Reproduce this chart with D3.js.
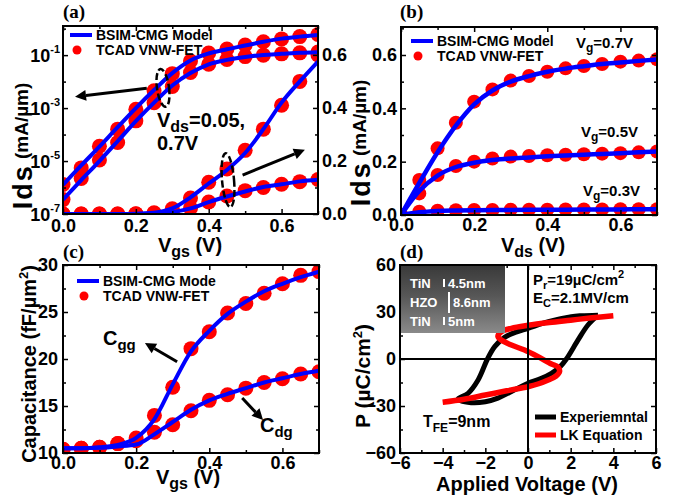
<!DOCTYPE html>
<html>
<head>
<meta charset="utf-8">
<script src="https://cdn.jsdelivr.net/npm/d3@7"></script>
<style>
  body { margin: 0; background: #fff; }
  svg text { font-family: "Liberation Sans", Arial, sans-serif; font-weight: bold; fill: #000; }
</style>
</head>
<body>
<div id="fig"></div>
<script>
const FONT = "'Liberation Sans', Arial, sans-serif";
const SERIF = "'Liberation Serif', 'Times New Roman', serif";
const BLUE = "#0000ff";
const RED = "#ff0000";

// ---- panel (a): Ids-Vgs, same curves on log (left) and linear (right) axes ----
const A_VGS = [0, 0.05, 0.1, 0.15, 0.2, 0.25, 0.3, 0.35, 0.4, 0.45, 0.5, 0.55, 0.6, 0.65, 0.7];
const A_MODEL_VD07 = [1.26e-6, 6.8e-6, 3.5e-5, 1.9e-4, 1.0e-3, 4.8e-3, 0.021, 0.063, 0.115, 0.166, 0.23, 0.32, 0.42, 0.5, 0.575];
const A_MODEL_VD005 = [3.5e-7, 1.9e-6, 1.0e-5, 5.6e-5, 3.2e-4, 1.6e-3, 7.1e-3, 0.021, 0.045, 0.066, 0.085, 0.102, 0.112, 0.123, 0.129];
const A_TCAD_VD07 = [1.3e-6, 5.5e-6, 3.6e-5, 1.6e-4, 9e-4, 4.5e-3, 0.02, 0.06, 0.12, 0.17, 0.24, 0.32, 0.41, 0.5, 0.6];
const A_TCAD_VD005 = [3.5e-7, 2.2e-6, 1.1e-5, 5e-5, 3.3e-4, 1.6e-3, 6.5e-3, 0.022, 0.045, 0.068, 0.088, 0.1, 0.112, 0.122, 0.13];
const A_LOG_TICKS = [-7, -5, -3, -1];
const A_LIN_TICKS = [0, 0.2, 0.4, 0.6];

// ---- panel (b): Ids-Vds ----
const B_VDS = [0, 0.05, 0.1, 0.15, 0.2, 0.25, 0.3, 0.35, 0.4, 0.45, 0.5, 0.55, 0.6, 0.65, 0.7];
const B_MODEL_VG07 = [0, 0.12, 0.235, 0.335, 0.415, 0.467, 0.5, 0.521, 0.537, 0.549, 0.558, 0.566, 0.572, 0.578, 0.583];
const B_TCAD_VG07 = [0, 0.131, 0.25, 0.346, 0.425, 0.471, 0.504, 0.521, 0.537, 0.55, 0.559, 0.566, 0.575, 0.579, 0.584];
const B_MODEL_VG05 = [0, 0.09, 0.148, 0.18, 0.196, 0.206, 0.212, 0.216, 0.22, 0.223, 0.226, 0.229, 0.232, 0.235, 0.238];
const B_TCAD_VG05 = [0, 0.081, 0.15, 0.184, 0.2, 0.212, 0.219, 0.221, 0.224, 0.226, 0.228, 0.23, 0.232, 0.235, 0.238];
const B_MODEL_VG03 = [0, 0.01, 0.015, 0.017, 0.018, 0.0185, 0.019, 0.0193, 0.0196, 0.02, 0.0203, 0.0206, 0.021, 0.0215, 0.022];
const B_TCAD_VG03 = [0, 0.012, 0.016, 0.018, 0.019, 0.019, 0.02, 0.02, 0.02, 0.021, 0.021, 0.021, 0.022, 0.022, 0.022];

// ---- panel (c): capacitance ----
const C_VGS = [0, 0.05, 0.1, 0.15, 0.2, 0.25, 0.3, 0.35, 0.4, 0.45, 0.5, 0.55, 0.6, 0.65, 0.7];
const C_MODEL_CGG = [10.5, 10.5, 10.6, 10.85, 11.6, 13.6, 17.3, 20.8, 23.0, 24.8, 26.1, 27.2, 28.0, 28.7, 29.3];
const C_TCAD_CGG = [10.4, 10.5, 10.6, 11.0, 11.6, 14.0, 17.0, 21.1, 22.9, 24.9, 25.9, 27.0, 28.0, 28.9, 29.3];
const C_MODEL_CDG = [10.5, 10.5, 10.55, 10.7, 10.9, 12.0, 13.3, 14.6, 15.6, 16.3, 16.9, 17.5, 17.95, 18.4, 18.75];
const C_TCAD_CDG = [10.4, 10.5, 10.6, 11.0, 11.3, 12.2, 13.0, 14.5, 15.6, 16.2, 16.9, 17.5, 17.9, 18.4, 18.65];

// ---- panel (d): P-V loops ----
const D_EXP_V = [3.28, 2.5, 2.03, 1, 0, -0.6, -1.1, -1.56, -1.9, -2.34, -2.81, -3.28, -2.66, -2, -1.41, -0.6, 0, 0.6, 1.1, 1.5, 1.8, 2.34, 2.81, 3.28];
const D_EXP_P = [28, 27.6, 27, 24, 19.6, 17, 13.8, 7.9, 0, -13.4, -21.9, -25.5, -27.9, -27.3, -25, -19.5, -15.5, -12.5, -9.1, -5, 0, 12, 21.7, 28];
const D_LK_V = [-4, -3, -2, -1, 0, 0.5, 0.95, 1.3, 1.48, 1.4, 1.1, 0.47, -0.16, -0.78, -1.25, -1.41, -1.25, -0.78, 0, 1, 2, 3, 4];
const D_LK_P = [-27.6, -25.7, -23, -20.3, -17.7, -15.8, -13.4, -11, -8, -5, -3.2, 1.5, 5.7, 8.9, 12.1, 14.5, 17.4, 19.6, 21.5, 23.3, 24.8, 26.3, 27.6];

const SVG = d3.select("#fig").append("svg")
    .attr("width", 678)
    .attr("height", 500);
const DEFS = SVG.append("defs");

// create a panel group with a clipped plotting layer
function makePanel(id, left, top, w, h) {
    DEFS.append("clipPath").attr("id", "clip-" + id)
        .append("rect").attr("width", w).attr("height", h);
    const g = SVG.append("g").attr("transform", "translate(" + left + "," + top + ")");
    const plot = g.append("g").attr("clip-path", "url(#clip-" + id + ")");
    return {g: g, plot: plot, w: w, h: h};
}

// write text made of parts [string, size, baseline shift, letter spacing]
function rich(sel, parts) {
    let cur = 0;
    parts.forEach((p) => {
        const shift = p[2] || 0;
        sel.append("tspan")
            .attr("font-size", p[1])
            .attr("dy", shift - cur)
            .attr("letter-spacing", p[3] || 0)
            .text(p[0]);
        cur = shift;
    });
    return sel;
}

function styleAxis(sel, size) {
    sel.select(".domain").remove();
    sel.selectAll("line").attr("stroke", "#000").attr("stroke-width", 1.5);
    sel.attr("font-size", size).attr("font-family", FONT).attr("font-weight", "bold");
}

// inward ticks on all four sides, labels bottom/left (and right when asked)
function drawAxes(p, o) {
    const h = p.h, w = p.w;
    const sides = [
        [(s) => d3.axisBottom(s), o.x, "translate(0," + h + ")", o.xTicks, o.xMinor, o.xFmt, o.xPad],
        [(s) => d3.axisTop(s), o.x, "translate(0,0)", o.xTicks, o.xMinor, null, 0],
        [(s) => d3.axisLeft(s), o.y, "translate(0,0)", o.yTicks, o.yMinor, o.yFmt, o.yPad],
        [(s) => d3.axisRight(s), o.yR || o.y, "translate(" + w + ",0)", o.yRTicks || o.yTicks,
            o.yRMinor || o.yMinor, o.yRFmt || null, o.yRPad || 0]
    ];
    sides.forEach((a) => {
        const maj = a[0](a[1]).tickValues(a[3]).tickSizeInner(-5).tickSizeOuter(0)
            .tickPadding(a[6]).tickFormat(a[5] || (() => ""));
        const gm = p.g.append("g").attr("transform", a[2]).call(maj);
        styleAxis(gm, 18);
        if (a[4]) {
            const mn = a[0](a[1]).tickValues(a[4]).tickSizeInner(-3).tickSizeOuter(0).tickFormat(() => "");
            const gn = p.g.append("g").attr("transform", a[2]).call(mn);
            styleAxis(gn, 18);
        }
    });
    p.g.append("rect")
        .attr("width", w).attr("height", h)
        .attr("fill", "none").attr("stroke", "#000").attr("stroke-width", 2);
}

function curve(p, xs, ys, x, y, color, width, shape) {
    const pts = xs.map((v, i) => [v, ys[i]]);
    p.plot.append("path")
        .datum(pts)
        .attr("fill", "none")
        .attr("stroke", color)
        .attr("stroke-width", width)
        .attr("stroke-linejoin", "round")
        .attr("d", d3.line().x((d) => x(d[0])).y((d) => y(d[1])).curve(shape || d3.curveMonotoneX));
}

function dots(p, xs, ys, x, y, r) {
    p.plot.selectAll(null)
        .data(xs.map((v, i) => [v, ys[i]]))
        .enter()
        .append("circle")
            .attr("cx", (d) => x(d[0]))
            .attr("cy", (d) => y(d[1]))
            .attr("r", r)
            .attr("fill", RED);
}

function arrow(g, x1, y1, x2, y2) {
    const ang = Math.atan2(y2 - y1, x2 - x1);
    const L = 11, W = 5.5;
    const bx = x2 - L * Math.cos(ang), by = y2 - L * Math.sin(ang);
    g.append("line")
        .attr("x1", x1).attr("y1", y1).attr("x2", bx).attr("y2", by)
        .attr("stroke", "#000").attr("stroke-width", 3);
    g.append("path")
        .attr("d", "M" + x2 + "," + y2 +
            "L" + (bx + W * Math.sin(ang)) + "," + (by - W * Math.cos(ang)) +
            "L" + (bx - W * Math.sin(ang)) + "," + (by + W * Math.cos(ang)) + "Z")
        .attr("fill", "#000");
}

function legend(g, x, y, label1, label2) {
    g.append("line").attr("x1", x).attr("x2", x + 22).attr("y1", y).attr("y2", y)
        .attr("stroke", BLUE).attr("stroke-width", 4);
    g.append("text").attr("x", x + 26).attr("y", y + 5).attr("font-size", 14).text(label1);
    g.append("circle").attr("cx", x + 7).attr("cy", y + 15).attr("r", 4.5).attr("fill", RED);
    g.append("text").attr("x", x + 26).attr("y", y + 20).attr("font-size", 14).text(label2);
}

function yLabel(x, y, parts) {
    rich(SVG.append("text")
        .attr("transform", "translate(" + x + "," + y + ") rotate(-90)")
        .attr("text-anchor", "middle"), parts);
}

function xLabel(x, y, parts) {
    rich(SVG.append("text").attr("x", x).attr("y", y).attr("text-anchor", "middle"), parts);
}

function panelTag(x, y, s) {
    SVG.append("text").attr("x", x).attr("y", y)
        .style("font-family", SERIF).attr("font-size", 19).text(s);
}

const FMT1 = d3.format(".1f");

// ================= panel (a) =================
const PA = makePanel("a", 63, 26, 255, 188);
const A_X = d3.scaleLinear().domain([0, 0.7]).range([0, PA.w]);
const A_Y_LOG = d3.scaleLog().domain([1e-7, Math.pow(10, 0.1)]).range([PA.h, 0]);
const A_Y_LIN = d3.scaleLinear().domain([0, 0.709]).range([PA.h, 0]);

dots(PA, A_VGS, A_TCAD_VD07, A_X, A_Y_LOG, 7.5);
dots(PA, A_VGS, A_TCAD_VD005, A_X, A_Y_LOG, 7.5);
dots(PA, A_VGS, A_TCAD_VD07, A_X, A_Y_LIN, 7.5);
dots(PA, A_VGS, A_TCAD_VD005, A_X, A_Y_LIN, 7.5);
curve(PA, A_VGS, A_MODEL_VD07, A_X, A_Y_LOG, BLUE, 4);
curve(PA, A_VGS, A_MODEL_VD005, A_X, A_Y_LOG, BLUE, 4);
curve(PA, A_VGS, A_MODEL_VD07, A_X, A_Y_LIN, BLUE, 4);
curve(PA, A_VGS, A_MODEL_VD005, A_X, A_Y_LIN, BLUE, 4);

drawAxes(PA, {
    x: A_X, y: A_Y_LOG,
    xTicks: [0, 0.2, 0.4, 0.6], xMinor: [0.1, 0.3, 0.5, 0.7], xFmt: FMT1, xPad: 5,
    yTicks: A_LOG_TICKS.map((e) => Math.pow(10, e)), yMinor: [1e-6, 1e-4, 1e-2, 1], yFmt: null, yPad: 0,
    yR: A_Y_LIN, yRTicks: A_LIN_TICKS, yRMinor: [0.1, 0.3, 0.5, 0.7], yRFmt: FMT1, yRPad: 4
});
// log tick labels 10^n
A_LOG_TICKS.forEach((e) => {
    rich(PA.g.append("text")
        .attr("x", -3).attr("y", A_Y_LOG(Math.pow(10, e)) + 6.5)
        .attr("text-anchor", "end"), [["10", 18, 0], [String(e), 11, -8.5]]);
});

// annotations: dashed rings + arrows
PA.g.append("ellipse")
    .attr("cx", A_X(0.2745)).attr("cy", A_Y_LOG(5.8e-3)).attr("rx", 6).attr("ry", 19)
    .attr("transform", "rotate(-8," + A_X(0.2745) + "," + A_Y_LOG(5.8e-3) + ")")
    .attr("fill", "none").attr("stroke", "#000").attr("stroke-width", 2.5).attr("stroke-dasharray", "7,3");
PA.g.append("ellipse")
    .attr("cx", A_X(0.453)).attr("cy", A_Y_LIN(0.128)).attr("rx", 6).attr("ry", 27)
    .attr("transform", "rotate(-5," + A_X(0.453) + "," + A_Y_LIN(0.128) + ")")
    .attr("fill", "none").attr("stroke", "#000").attr("stroke-width", 2.5).attr("stroke-dasharray", "7,3");
arrow(PA.g, A_X(0.23), A_Y_LOG(5.6e-3), A_X(0.033), A_Y_LOG(2.7e-3));
arrow(PA.g, A_X(0.493), A_Y_LIN(0.147), A_X(0.664), A_Y_LIN(0.242));
rich(PA.g.append("text").attr("x", 94).attr("y", 101), [["V", 20, 0], ["ds", 16, 5], ["=0.05,", 20, 0]]);
PA.g.append("text").attr("x", 94).attr("y", 124).attr("font-size", 20).text("0.7V");
legend(PA.g, 7, 9, "BSIM-CMG Model", "TCAD VNW-FET");

// ================= panel (b) =================
const PB = makePanel("b", 401, 27, 256, 188);
const B_X = d3.scaleLinear().domain([0, 0.7]).range([0, PB.w]);
const B_Y = d3.scaleLinear().domain([0, 0.705]).range([PB.h, 0]);

dots(PB, B_VDS, B_TCAD_VG07, B_X, B_Y, 7);
dots(PB, B_VDS, B_TCAD_VG05, B_X, B_Y, 7);
dots(PB, B_VDS, B_TCAD_VG03, B_X, B_Y, 7);
curve(PB, B_VDS, B_MODEL_VG07, B_X, B_Y, BLUE, 4.5);
curve(PB, B_VDS, B_MODEL_VG05, B_X, B_Y, BLUE, 4.5);
curve(PB, B_VDS, B_MODEL_VG03, B_X, B_Y, BLUE, 4.5);

drawAxes(PB, {
    x: B_X, y: B_Y,
    xTicks: [0, 0.2, 0.4, 0.6], xMinor: [0.1, 0.3, 0.5, 0.7], xFmt: FMT1, xPad: 3,
    yTicks: [0, 0.2, 0.4, 0.6], yMinor: [0.1, 0.3, 0.5, 0.7], yFmt: FMT1, yPad: 4
});
legend(PB.g, 10, 14, "BSIM-CMG Model", "TCAD VNW-FET");
rich(PB.g.append("text").attr("x", 175).attr("y", 21), [["V", 15, 0], ["g", 12, 4], ["=0.7V", 15, 0]]);
rich(PB.g.append("text").attr("x", 180).attr("y", 110), [["V", 15, 0], ["g", 12, 4], ["=0.5V", 15, 0]]);
rich(PB.g.append("text").attr("x", 182).attr("y", 169), [["V", 15, 0], ["g", 12, 4], ["=0.3V", 15, 0]]);

// ================= panel (c) =================
const PC = makePanel("c", 63, 265, 256, 188);
const C_X = d3.scaleLinear().domain([0, 0.7]).range([0, PC.w]);
const C_Y = d3.scaleLinear().domain([10, 30]).range([PC.h, 0]);

dots(PC, C_VGS, C_TCAD_CGG, C_X, C_Y, 7.5);
dots(PC, C_VGS, C_TCAD_CDG, C_X, C_Y, 7.5);
curve(PC, C_VGS, C_MODEL_CGG, C_X, C_Y, BLUE, 4);
curve(PC, C_VGS, C_MODEL_CDG, C_X, C_Y, BLUE, 4);

drawAxes(PC, {
    x: C_X, y: C_Y,
    xTicks: [0, 0.2, 0.4, 0.6], xMinor: [0.1, 0.3, 0.5, 0.7], xFmt: FMT1, xPad: 3,
    yTicks: [10, 15, 20, 25, 30], yMinor: [12.5, 17.5, 22.5, 27.5], yFmt: d3.format("d"), yPad: 5
});
legend(PC.g, 14, 16, "BSIM-CMG Mode", "TCAD VNW-FET");
rich(PC.g.append("text").attr("x", 40).attr("y", 80), [["C", 20, 0], ["gg", 15, 5]]);
arrow(PC.g, C_X(0.312), C_Y(19.7), C_X(0.224), C_Y(21.7));
rich(PC.g.append("text").attr("x", 197).attr("y", 167), [["C", 20, 0], ["dg", 15, 5]]);
arrow(PC.g, C_X(0.49), C_Y(15.85), C_X(0.547), C_Y(13.5));

// ================= panel (d) =================
const PD = makePanel("d", 400, 265, 256, 188);
const D_X = d3.scaleLinear().domain([-6, 6]).range([0, PD.w]);
const D_Y = d3.scaleLinear().domain([-60, 60]).range([PD.h, 0]);

// zero lines
PD.g.append("line").attr("x1", 0).attr("x2", PD.w).attr("y1", D_Y(0)).attr("y2", D_Y(0))
    .attr("stroke", "#000").attr("stroke-width", 2);
PD.g.append("line").attr("x1", D_X(0)).attr("x2", D_X(0)).attr("y1", 0).attr("y2", PD.h)
    .attr("stroke", "#000").attr("stroke-width", 2);

curve(PD, D_EXP_V, D_EXP_P, D_X, D_Y, "#000", 5, d3.curveCatmullRom);
curve(PD, D_LK_V, D_LK_P, D_X, D_Y, RED, 5.5, d3.curveCatmullRom);

drawAxes(PD, {
    x: D_X, y: D_Y,
    xTicks: [-6, -4, -2, 0, 2, 4, 6], xMinor: [-5, -3, -1, 1, 3, 5], xFmt: d3.format("d"), xPad: 3,
    yTicks: [-60, -30, 0, 30, 60], yMinor: [-45, -15, 15, 45], yFmt: d3.format("d"), yPad: 4
});

// TEM inset
const GRAD = DEFS.append("linearGradient").attr("id", "tem").attr("x1", 0).attr("y1", 0).attr("x2", 0).attr("y2", 1);
GRAD.append("stop").attr("offset", 0).attr("stop-color", "#3a3a3a");
GRAD.append("stop").attr("offset", 0.45).attr("stop-color", "#575757");
GRAD.append("stop").attr("offset", 1).attr("stop-color", "#8a8a8a");
const INSET = PD.g.append("g");
INSET.append("rect").attr("x", 1).attr("y", 1).attr("width", 104).attr("height", 67).attr("fill", "url(#tem)");
[["TiN", "4.5nm", 23, 44, 14, 22], ["HZO", "8.6nm", 42, 49, 27, 48], ["TiN", "5nm", 61, 44, 52, 60]].forEach((r) => {
    INSET.append("text").attr("x", 10).attr("y", r[2]).attr("font-size", 13).style("fill", "#fff").text(r[0]);
    INSET.append("line").attr("x1", r[3]).attr("x2", r[3]).attr("y1", r[4]).attr("y2", r[5])
        .attr("stroke", "#fff").attr("stroke-width", 2);
    INSET.append("text").attr("x", r[3] + 4).attr("y", r[2]).attr("font-size", 13).style("fill", "#fff").text(r[1]);
});

rich(PD.g.append("text").attr("x", 133).attr("y", 20),
    [["P", 15, 0], ["r", 11, 4], ["=19\u00b5C/cm", 15, 0], ["2", 11, -7]]);
rich(PD.g.append("text").attr("x", 133).attr("y", 38),
    [["E", 15, 0], ["C", 11, 4], ["=2.1MV/cm", 15, 0]]);
rich(PD.g.append("text").attr("x", 23).attr("y", 162),
    [["T", 16, 0], ["FE", 12, 5], ["=9nm", 16, 0]]);

// legend (d)
PD.g.append("line").attr("x1", 135).attr("x2", 156).attr("y1", 152).attr("y2", 152)
    .attr("stroke", "#000").attr("stroke-width", 5);
PD.g.append("text").attr("x", 160).attr("y", 157).attr("font-size", 14).text("Experiemntal");
PD.g.append("line").attr("x1", 135).attr("x2", 156).attr("y1", 170).attr("y2", 170)
    .attr("stroke", RED).attr("stroke-width", 5);
PD.g.append("text").attr("x", 160).attr("y", 175).attr("font-size", 14).text("LK Equation");

// ================= axis titles & panel tags =================
yLabel(32, 146, [["Ids", 27, 0, 2], [" (mA/\u00b5m)", 19, -4]]);
yLabel(370, 143, [["Ids", 27, 0, 2], [" (mA/\u00b5m)", 19, -4]]);
yLabel(36, 364, [["Capacitance (fF/\u00b5m", 20, 0], ["2", 13, -8], [")", 20, 0]]);
yLabel(370, 376, [["P (\u00b5C/cm", 21, 0], ["2", 13, -8], [")", 21, 0]]);

xLabel(190, 252, [["V", 20, 0], ["gs", 16, 5], [" (V)", 20, 0]]);
xLabel(533, 252, [["V", 20, 0], ["ds", 16, 5], [" (V)", 20, 0]]);
xLabel(188, 484, [["V", 20, 0], ["gs", 16, 5], [" (V)", 20, 0]]);
xLabel(527, 491, [["Applied Voltage (V)", 20, 0]]);

panelTag(63, 18, "(a)");
panelTag(400, 18, "(b)");
panelTag(63, 258, "(c)");
panelTag(400, 258, "(d)");
</script>
</body>
</html>
